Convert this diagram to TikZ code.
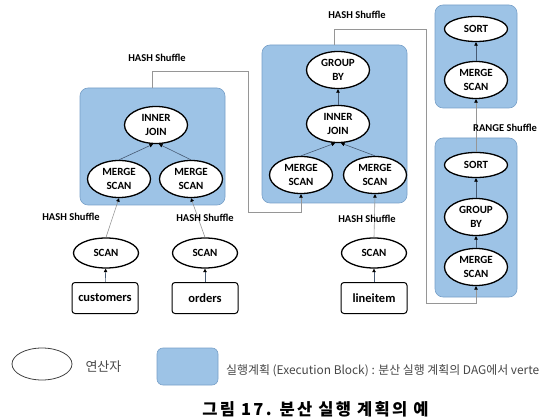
\documentclass[tikz,border=0pt]{standalone}
\usepackage{fontspec}
\setmainfont{Carlito}
\newfontfamily\krfont{Noto Sans CJK KR}
\newfontfamily\capfont[LetterSpace=14]{Noto Sans CJK KR}
\usepackage{tikz}
\usetikzlibrary{arrows.meta,positioning,shapes.geometric}
\definecolor{blkfill}{RGB}{157,195,230}
\definecolor{blkedge}{RGB}{120,160,200}
\definecolor{shufgray}{RGB}{150,150,150}
\definecolor{inline}{RGB}{70,90,115}
\definecolor{legtext}{RGB}{70,70,70}

\begin{document}
\begin{tikzpicture}[x=1pt, y=-1pt,
  block/.style={draw=blkedge, fill=blkfill, rounded corners=8pt, line width=0.6pt, inner sep=0pt},
  op/.style={ellipse, draw=black, fill=white, line width=1.3pt, minimum width=63pt, minimum height=37pt, inner sep=0pt, align=center, font=\bfseries\fontsize{11}{14}\selectfont},
  opone/.style={op, minimum height=25pt},
  scanop/.style={op, minimum width=65pt, minimum height=30pt},
  tbl/.style={draw=black, fill=white, rounded corners=3pt, line width=1pt, minimum width=66pt, minimum height=31pt, inner sep=0pt, font=\bfseries\fontsize{12.5}{15}\selectfont},
  lbl/.style={font=\bfseries\fontsize{10.5}{12}\selectfont, inner sep=1pt},
  arr/.style={-{Triangle[length=3.5pt,width=3.5pt,color=black]}, draw=inline, line width=0.6pt},
  shuf/.style={arr, draw=shufgray}]
\useasboundingbox (0,0) rectangle (545,419);

% execution blocks
\node[block, minimum width=145pt, minimum height=117pt] (blk1) at (152.5,146.5) {};
\node[block, minimum width=145pt, minimum height=158pt] (blk2) at (334.5,124) {};
\node[block, minimum width=82pt, minimum height=103pt] (blk3) at (476,56.5) {};
\node[block, minimum width=82pt, minimum height=159pt] (blk4) at (476,217.5) {};

% block 1
\node[op] (ij1) at (156,125) {INNER\\JOIN};
\node[op] (ms1a) at (119,179) {MERGE\\SCAN};
\node[op] (ms1b) at (191,179) {MERGE\\SCAN};
\draw[arr] (ms1a.north) -- ([xshift=-3pt]ij1.south);
\draw[arr] (ms1b.north) -- ([xshift=3pt]ij1.south);

% block 2
\node[op] (gb2) at (338,70) {GROUP\\BY};
\node[op] (ij2) at (338,124) {INNER\\JOIN};
\node[op] (ms2a) at (301,175) {MERGE\\SCAN};
\node[op] (ms2b) at (375,175) {MERGE\\SCAN};
\draw[arr] (ij2) -- (gb2);
\draw[arr] (ms2a.north) -- ([xshift=-3pt]ij2.south);
\draw[arr] (ms2b.north) -- ([xshift=3pt]ij2.south);

% block 3
\node[opone] (sort3) at (476,29) {SORT};
\node[op] (ms3) at (476,80) {MERGE\\SCAN};
\draw[arr] (ms3) -- (sort3);

% block 4
\node[opone] (sort4) at (476,165) {SORT};
\node[op] (gb4) at (476,217) {GROUP\\BY};
\node[op] (ms4) at (476,267) {MERGE\\SCAN};
\draw[arr] (gb4) -- (sort4);
\draw[arr] (ms4) -- (gb4);

% scans and tables
\node[scanop] (scan1) at (106,253) {SCAN};
\node[scanop] (scan2) at (205,253) {SCAN};
\node[scanop] (scan3) at (374,253) {SCAN};
\node[tbl] (cust) at (105,298) {customers};
\node[tbl] (ord) at (205,298) {orders};
\node[tbl] (litem) at (374,298) {lineitem};
\draw[arr] (cust) -- (scan1);
\draw[arr] (ord) -- (scan2);
\draw[arr] (litem) -- (scan3);

% shuffles
\draw[shuf] (scan1.north) -- (ms1a.south);
\draw[shuf] (scan2.north) -- (ms1b.south);
\draw[shuf] (scan3.north) -- (ms2b.south);
\node[lbl] (hs1) at (71,217) {HASH Shuffle};
\node[lbl] (hs2) at (205,218) {HASH Shuffle};
\node[lbl] (hs3) at (367,219) {HASH Shuffle};

\coordinate (k1) at (248,71);
\coordinate (k2) at (248,212);
\draw[shuf] (blk1.north) |- (k1) -- (k2) -| (ms2a.south);
\node[lbl] (hs4) at (157,58) {HASH Shuffle};

\coordinate (k3) at (426,29);
\coordinate (k4) at (426,303);
\draw[shuf] (blk2.north) |- (k3) -- (k4) -| (ms4.south);
\node[lbl] (hs5) at (357,15) {HASH Shuffle};

\draw[shuf] (sort4) -- (ms3);
\node[lbl, anchor=west] (rs) at (472,128) {RANGE Shuffle};

% legend
\node[ellipse, draw=black!75, line width=0.8pt, minimum width=60pt, minimum height=32pt] (lgop) at (42,364) {};
\node[anchor=west, text=legtext, font=\krfont\fontsize{13}{15}\selectfont] (lgopt) at (82,367) {연산자};
\node[block, minimum width=61pt, minimum height=37pt, rounded corners=6pt] (lgblk) at (187.5,366.5) {};
\node[anchor=west, text=legtext, font=\krfont\fontsize{11.9}{14}\selectfont, inner sep=0pt] (lgblkt) at (226,371) {실행계획 (Execution Block) : 분산 실행 계획의 DAG에서 verte};

% caption
\node[font=\capfont\bfseries\fontsize{16.5}{18}\selectfont, inner sep=0pt] (cap) at (315.5,409) {그림 17. 분산 실행 계획의 예};
\end{tikzpicture}
\end{document}
